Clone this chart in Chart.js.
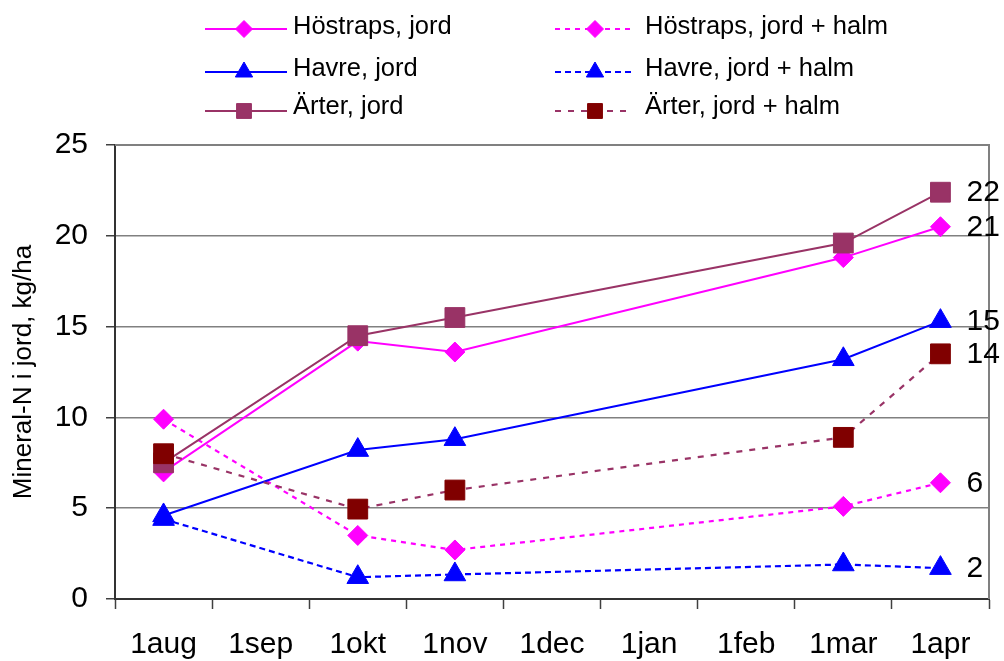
<!DOCTYPE html>
<html>
<head>
<meta charset="utf-8">
<script src="https://cdn.jsdelivr.net/npm/chart.js@4/dist/chart.umd.min.js"></script>
<style>
  html, body { margin: 0; padding: 0; background: #ffffff; }
  #wrap { width: 1004px; height: 661px; }
</style>
</head>
<body>
<div id="wrap"><canvas id="c" width="1004" height="661"></canvas></div>
<script>
// Sampling dates (category axis, one slot per month)
const months = ['1aug', '1sep', '1okt', '1nov', '1dec', '1jan', '1feb', '1mar', '1apr'];

// Mineral-N i jord, kg/ha
const hostrapsJord      = [7.0, null, 14.2, 13.6, null, null, null, 18.8, 20.5];
const hostrapsJordHalm  = [9.9, null, 3.5, 2.7, null, null, null, 5.1, 6.4];
const havreJord         = [4.6, null, 8.2, 8.8, null, null, null, 13.2, 15.3];
const havreJordHalm     = [4.4, null, 1.2, 1.35, null, null, null, 1.9, 1.7];
const arterJord         = [7.5, null, 14.5, 15.5, null, null, null, 19.6, 22.4];
const arterJordHalm     = [8.0, null, 4.95, 6.0, null, null, null, 8.9, 13.5];

const yTicks = [0, 5, 10, 15, 20, 25];

const FONT = "'Liberation Sans', Arial, Helvetica, sans-serif";

function series(label, data, color, markerColor, style, radius, dash, legendRadius, order) {
  return {
    label: label,
    data: data,
    borderColor: color,
    backgroundColor: markerColor,
    pointBackgroundColor: markerColor,
    pointBorderColor: markerColor,
    pointBorderWidth: 1,
    pointStyle: style,
    pointRadius: radius,
    pointHoverRadius: radius,
    borderWidth: dash.length ? 2.2 : 2,
    borderDash: dash,
    tension: 0,
    spanGaps: true,
    fill: false,
    order: order,
    legendRadius: legendRadius,
    endLabel: true
  };
}

const datasets = [
  series('Höstraps, jord',        hostrapsJord,     '#FF00FF', '#FF00FF', 'rectRot',  10,  [],     8.5, 5),
  series('Höstraps, jord + halm', hostrapsJordHalm, '#FF00FF', '#FF00FF', 'rectRot',  10,  [5, 5], 8.5, 4),
  series('Havre, jord',           havreJord,        '#0000FF', '#0000FF', 'triangle', 12.5, [],    10,  3),
  series('Havre, jord + halm',    havreJordHalm,    '#0000FF', '#0000FF', 'triangle', 12.5, [6, 4], 10, 2),
  series('Ärter, jord',           arterJord,        '#993366', '#993366', 'rect',     14,  [],     10.5, 1),
  series('Ärter, jord + halm',    arterJordHalm,    '#993366', '#800000', 'rect',     14,  [6, 7], 10.5, 0)
];

// Two-column legend above the plot: left column "jord", right column "jord + halm"
const legendColumns = [
  { lineFrom: 205, lineTo: 287, marker: 244, text: 293 },
  { lineFrom: 555, lineTo: 633, marker: 595, text: 645 }
];
const legendRows = [
  { line: 29, text: 34 },
  { line: 72, text: 76 },
  { line: 111, text: 114 }
];

function drawMarker(ctx, ds, radius, x, y) {
  ctx.save();
  ctx.setLineDash([]);
  ctx.fillStyle = ds.pointBackgroundColor;
  ctx.strokeStyle = ds.pointBorderColor;
  ctx.lineWidth = 1;
  Chart.helpers.drawPoint(ctx, { pointStyle: ds.pointStyle, radius: radius, rotation: 0, borderWidth: 1 }, x, y);
  ctx.restore();
}

const legendPlugin = {
  id: 'twoColumnLegend',
  afterDraw(chart) {
    const ctx = chart.ctx;
    chart.data.datasets.forEach((ds, i) => {
      const col = legendColumns[i % 2];
      const row = legendRows[Math.floor(i / 2)];
      ctx.save();
      ctx.strokeStyle = ds.borderColor;
      ctx.lineWidth = ds.borderWidth;
      ctx.setLineDash(ds.borderDash);
      ctx.beginPath();
      ctx.moveTo(col.lineFrom, row.line);
      ctx.lineTo(col.lineTo, row.line);
      ctx.stroke();
      ctx.restore();
      drawMarker(ctx, ds, ds.legendRadius, col.marker, row.line);
      ctx.save();
      ctx.fillStyle = '#000000';
      ctx.font = '25.5px ' + FONT;
      ctx.textAlign = 'left';
      ctx.textBaseline = 'alphabetic';
      ctx.fillText(ds.label, col.text, row.text);
      ctx.restore();
    });
  }
};

// Value at the last sampling date, written to the right of each series
const endLabelPlugin = {
  id: 'endLabels',
  afterDatasetsDraw(chart) {
    const ctx = chart.ctx;
    chart.data.datasets.forEach((ds, i) => {
      if (!ds.endLabel) return;
      const meta = chart.getDatasetMeta(i);
      const last = ds.data.length - 1;
      const pt = meta.data[last];
      const v = ds.data[last];
      if (!pt || v == null) return;
      ctx.save();
      ctx.fillStyle = '#000000';
      ctx.font = '30px ' + FONT;
      ctx.textAlign = 'left';
      ctx.textBaseline = 'middle';
      ctx.fillText(String(Math.round(v)), pt.x + 26, pt.y + 1);
      ctx.restore();
    });
  }
};

// Gray frame on the right side of the plot area
const framePlugin = {
  id: 'plotFrame',
  beforeDatasetsDraw(chart) {
    const a = chart.chartArea;
    const ctx = chart.ctx;
    ctx.save();
    ctx.strokeStyle = '#808080';
    ctx.lineWidth = 2;
    ctx.beginPath();
    ctx.moveTo(a.left, a.top);
    ctx.lineTo(a.right, a.top);
    ctx.lineTo(a.right, a.bottom);
    ctx.stroke();
    ctx.restore();
  }
};

new Chart(document.getElementById('c'), {
  type: 'line',
  data: { labels: months, datasets: datasets },
  options: {
    responsive: false,
    animation: false,
    events: [],
    layout: { padding: { top: 145, right: 11, left: 0, bottom: 0 } },
    plugins: {
      legend: { display: false },
      tooltip: { enabled: false },
      title: { display: false }
    },
    scales: {
      x: {
        type: 'category',
        offset: true,
        grid: {
          offset: true,
          drawOnChartArea: false,
          drawTicks: true,
          tickLength: 10,
          tickColor: '#404040',
          tickWidth: 1.5
        },
        border: { display: true, color: '#333333', width: 2 },
        ticks: {
          color: '#000000',
          font: { family: FONT, size: 30 },
          padding: 18,
          maxRotation: 0,
          autoSkip: false
        },
        afterFit(scale) { scale.height = 62; }
      },
      y: {
        min: 0,
        max: 25,
        afterBuildTicks(scale) { scale.ticks = yTicks.map(v => ({ value: v })); },
        grid: {
          color: '#808080',
          lineWidth: 1.5,
          drawTicks: true,
          tickLength: 9,
          tickColor: '#404040'
        },
        border: { display: true, color: '#333333', width: 2 },
        ticks: {
          color: '#000000',
          font: { family: FONT, size: 30 },
          padding: 18
        },
        title: {
          display: true,
          text: 'Mineral-N i jord, kg/ha',
          color: '#000000',
          font: { family: FONT, size: 26 },
          padding: { top: 8, bottom: 0 }
        },
        afterFit(scale) { scale.width = 115; }
      }
    }
  },
  plugins: [framePlugin, endLabelPlugin, legendPlugin]
});
</script>
</body>
</html>
